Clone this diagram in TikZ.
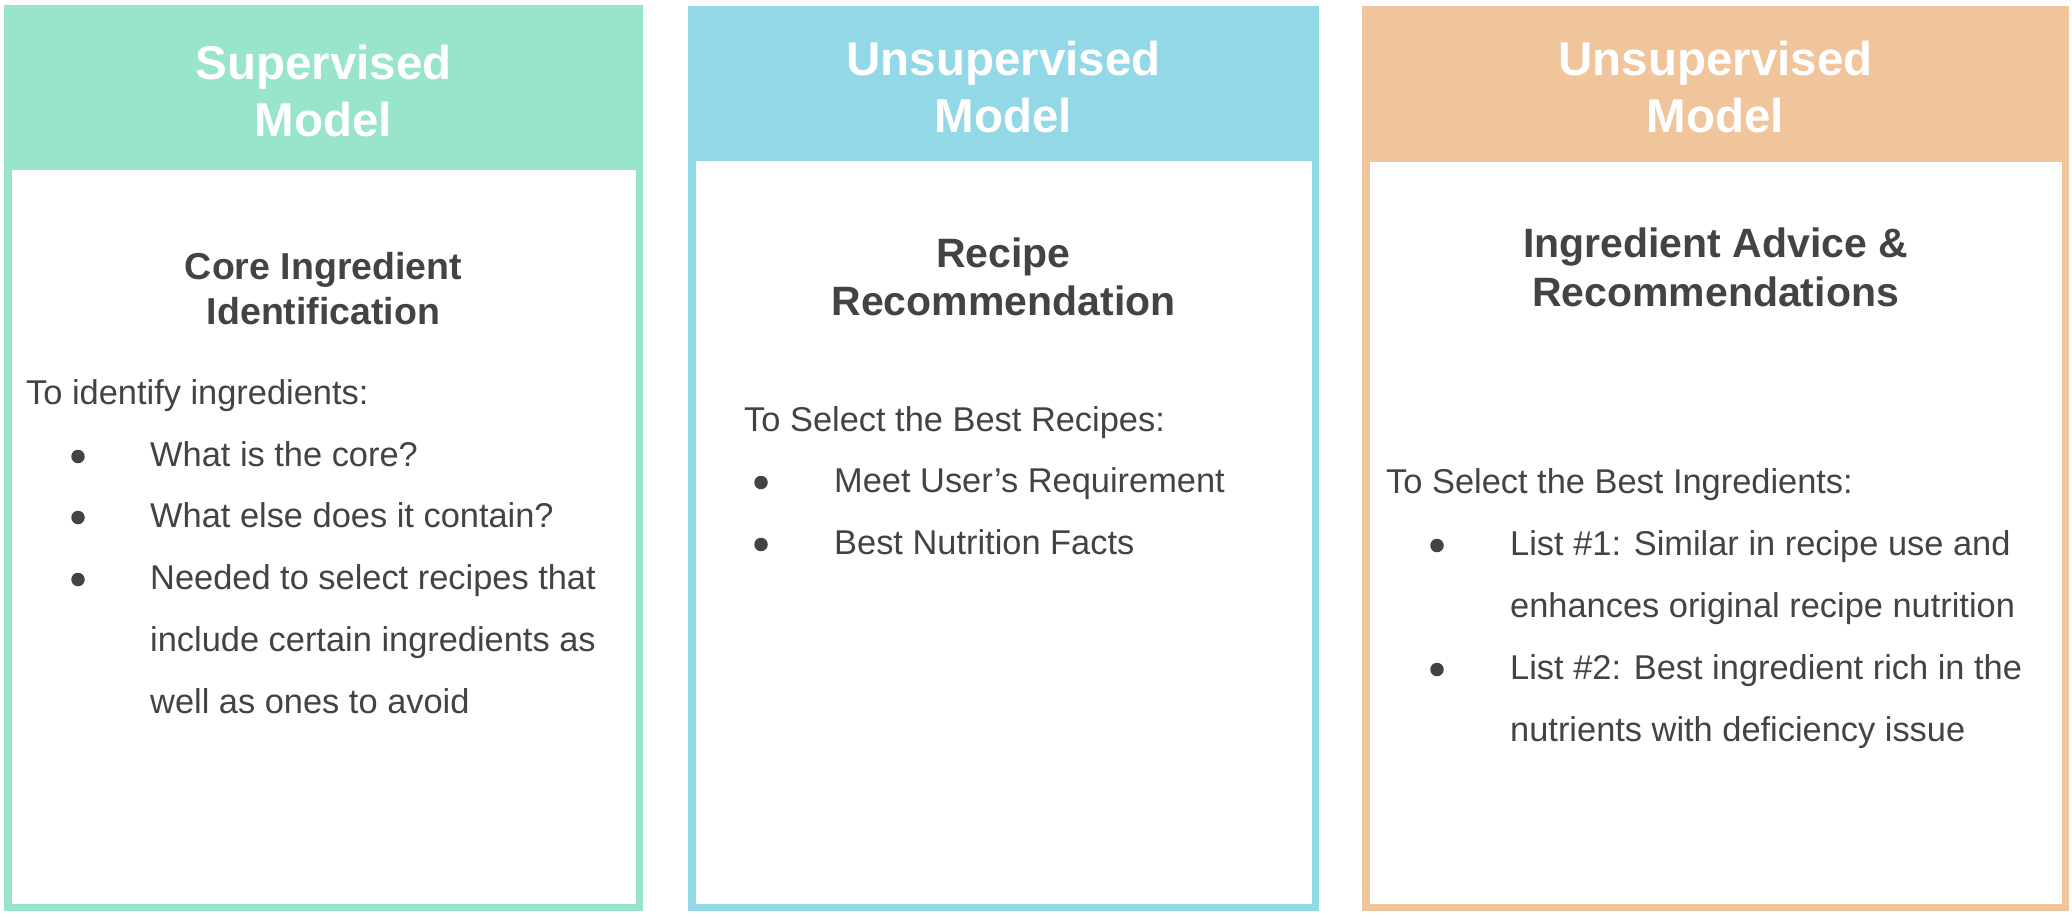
\documentclass[tikz,border=0pt]{standalone}
\usepackage{fontspec}
\setmainfont{Liberation Sans}
\definecolor{supgreen}{HTML}{98E5CA}
\definecolor{unsblue}{HTML}{93D8E6}
\definecolor{unsorange}{HTML}{F0C59B}
\definecolor{txtgray}{HTML}{434343}
\begin{document}
\begin{tikzpicture}[x=1pt,y=-1pt,
  head/.style={text=white,font=\fontsize{47.5}{57}\selectfont\bfseries,anchor=base,inner sep=0},
  subhead/.style={text=txtgray,font=\fontsize{41}{49}\selectfont\bfseries,anchor=base,inner sep=0},
  body/.style={text=txtgray,font=\fontsize{34.4}{62}\selectfont,anchor=base west,inner sep=0},
  dot/.style={circle,fill=txtgray,inner sep=0,minimum size=13.5}]
\useasboundingbox (0,0) rectangle (2072,916);
% panels
\fill[supgreen] (4,5) rectangle (643,911);
\fill[white] (11.5,170) rectangle (635.5,903.5);
\fill[unsblue] (688,6) rectangle (1319,911);
\fill[white] (695.5,161) rectangle (1311.5,903.5);
\fill[unsorange] (1362,6) rectangle (2069,911);
\fill[white] (1369.5,162) rectangle (2061.5,903.5);
% headers
\node[head] (sup1) at (323.5,79) {Supervised};
\node[head] (sup2) at (323.5,136) {Model};
\node[head] (uns1) at (1003.5,75) {Unsupervised};
\node[head] (uns2) at (1003.5,132) {Model};
\node[head] (uno1) at (1715.5,75) {Unsupervised};
\node[head] (uno2) at (1715.5,132) {Model};
% sub titles
\node[subhead,font=\fontsize{37.5}{45}\selectfont\bfseries] (core1) at (323.5,279) {Core Ingredient};
\node[subhead,font=\fontsize{37.5}{45}\selectfont\bfseries] (core2) at (323.5,324) {Identification};
\node[subhead] (rec1) at (1003.5,267) {Recipe};
\node[subhead] (rec2) at (1003.5,315) {Recommendation};
\node[subhead] (adv1) at (1715.5,257) {Ingredient Advice \&};
\node[subhead] (adv2) at (1715.5,306) {Recommendations};
% first panel
\node[body] (idtxt) at (26,404) {To identify ingredients:};
\node[dot] (d11) at (78,456.5) {};
\node[body] (id1) at (150,466) {What is the core?};
\node[dot] (d12) at (78,517.5) {};
\node[body] (id2) at (150,527) {What else does it contain?};
\node[dot] (d13) at (78,579.5) {};
\node[body] (id3a) at (150,589) {Needed to select recipes that};
\node[body] (id3b) at (150,651) {include certain ingredients as};
\node[body] (id3c) at (150,713) {well as ones to avoid};
% second panel
\node[body] (rctxt) at (744,431) {To Select the Best Recipes:};
\node[dot] (d21) at (761,482.5) {};
\node[body] (rc1) at (834,492) {Meet User’s Requirement};
\node[dot] (d22) at (761,544.5) {};
\node[body] (rc2) at (834,554) {Best Nutrition Facts};
% third panel
\node[body] (ingtxt) at (1386,493) {To Select the Best Ingredients:};
\node[dot] (d31) at (1437,545.5) {};
\node[body] (ing1a) at (1510,555) {List \#1: Similar in recipe use and};
\node[body] (ing1b) at (1510,617) {enhances original recipe nutrition};
\node[dot] (d32) at (1437,669.5) {};
\node[body] (ing2a) at (1510,679) {List \#2: Best ingredient rich in the};
\node[body] (ing2b) at (1510,741) {nutrients with deficiency issue};
\end{tikzpicture}
\end{document}
